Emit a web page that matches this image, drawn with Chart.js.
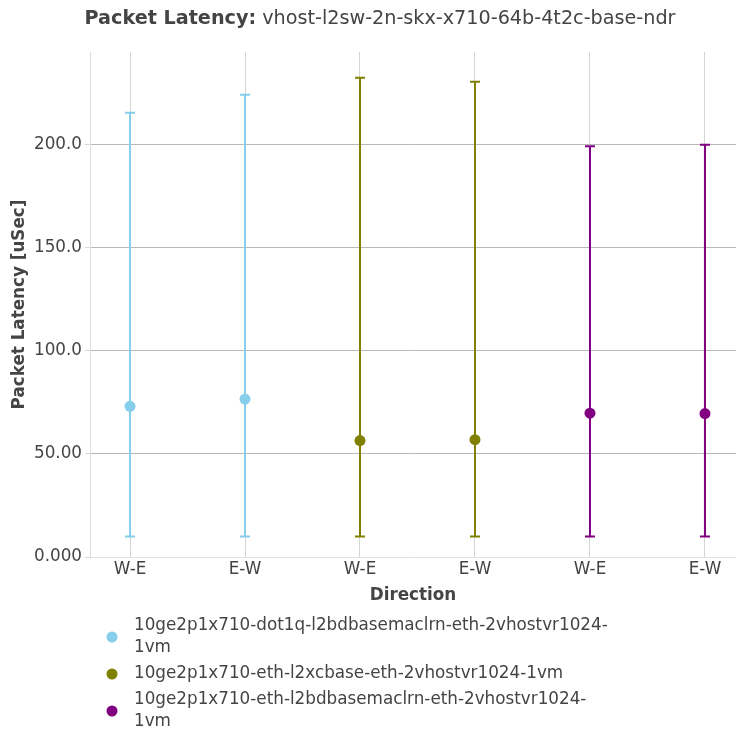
<!DOCTYPE html>
<html>
<head>
<meta charset="utf-8">
<script src="https://cdn.jsdelivr.net/npm/chart.js@4/dist/chart.umd.min.js"></script>
<style>
  html, body { margin: 0; padding: 0; background: #fff; }
  #wrap { width: 736px; height: 733px; }
</style>
</head>
<body>
<div id="wrap"><canvas id="grafik"></canvas></div>
<script>
const directions = ['W-E', 'E-W', 'W-E', 'E-W', 'W-E', 'E-W'];
const yTicks = [0, 50, 100, 150, 200];

const testNames = [
    ['10ge2p1x710-dot1q-l2bdbasemaclrn-eth-2vhostvr1024-', '1vm'],
    ['10ge2p1x710-eth-l2xcbase-eth-2vhostvr1024-1vm'],
    ['10ge2p1x710-eth-l2bdbasemaclrn-eth-2vhostvr1024-', '1vm']
];
const colors = ['#87ceeb', '#808000', '#800080'];
const positions = [[0, 1], [2, 3], [4, 5]];
const avgLatency = [[73.1, 76.6], [56.5, 56.9], [69.8, 69.6]];
const maxLatency = [[215.5, 224.3], [232.5, 230.6], [199.3, 200.0]];
const minLatency = [[10, 10], [10, 10], [10, 10]];

const textColor = '#444';
const font = '"DejaVu Sans", sans-serif';
const fs = 16.8;

// error bars (min..max) drawn under the points
const errorBars = {
    id: 'errorBars',
    beforeDatasetsDraw(chart) {
        const ctx = chart.ctx;
        const xs = chart.scales.x;
        const ys = chart.scales.y;
        ctx.save();
        ctx.lineWidth = 2;
        positions.forEach((pos, i) => {
            ctx.strokeStyle = colors[i];
            pos.forEach((p, j) => {
                const x = xs.getPixelForValue(p);
                const top = ys.getPixelForValue(maxLatency[i][j]);
                const bot = ys.getPixelForValue(minLatency[i][j]);
                ctx.beginPath();
                ctx.moveTo(x, top);
                ctx.lineTo(x, bot);
                ctx.moveTo(x - 5, top);
                ctx.lineTo(x + 5, top);
                ctx.moveTo(x - 5, bot);
                ctx.lineTo(x + 5, bot);
                ctx.stroke();
            });
        });
        ctx.restore();
    }
};

// title with bold prefix
const mixedTitle = {
    id: 'mixedTitle',
    afterDraw(chart) {
        const ctx = chart.ctx;
        const a = 'Packet Latency:';
        const b = ' vhost-l2sw-2n-skx-x710-64b-4t2c-base-ndr';
        ctx.save();
        ctx.textBaseline = 'middle';
        ctx.fillStyle = textColor;
        ctx.font = 'bold 19.2px ' + font;
        const wa = ctx.measureText(a).width;
        ctx.font = '19.2px ' + font;
        const wb = ctx.measureText(b).width;
        let x = 380 - (wa + wb) / 2;
        ctx.font = 'bold 19.2px ' + font;
        ctx.fillText(a, x, 19);
        ctx.font = '19.2px ' + font;
        ctx.fillText(b, x + wa, 19);
        ctx.restore();
    }
};

// legend below the plot, dot centred on each wrapped entry
const sideLegend = {
    id: 'sideLegend',
    afterDraw(chart) {
        const ctx = chart.ctx;
        const lineH = 22;
        let y = chart.chartArea.bottom + 69;
        ctx.save();
        ctx.font = fs + 'px ' + font;
        ctx.textBaseline = 'middle';
        testNames.forEach((lines, i) => {
            const mid = y + (lines.length - 1) * lineH / 2;
            ctx.fillStyle = colors[i];
            ctx.beginPath();
            ctx.arc(112, mid, 5.5, 0, Math.PI * 2);
            ctx.fill();
            ctx.fillStyle = textColor;
            lines.forEach((t, k) => ctx.fillText(t, 134, y + k * lineH));
            y += lines.length * lineH + 4;
        });
        ctx.restore();
    }
};

const datasets = positions.map((pos, i) => ({
    label: testNames[i].join(''),
    data: pos.map((p, j) => ({x: p, y: avgLatency[i][j]})),
    backgroundColor: colors[i],
    borderColor: colors[i],
    pointRadius: 5.5,
    pointBorderWidth: 0,
    showLine: false
}));

new Chart(document.getElementById('grafik'), {
    type: 'scatter',
    data: { datasets: datasets },
    plugins: [errorBars, mixedTitle, sideLegend],
    options: {
        responsive: true,
        maintainAspectRatio: false,
        animation: false,
        layout: { autoPadding: false, padding: { top: 52, left: 0, right: 0, bottom: 118 } },
        plugins: {
            legend: { display: false },
            tooltip: { enabled: false }
        },
        scales: {
            x: {
                type: 'linear',
                min: -0.348,
                max: 5.27,
                afterBuildTicks: s => { s.ticks = directions.map((d, k) => ({value: k})); },
                afterFit: s => { s.height = 58; },
                ticks: {
                    callback: v => directions[v],
                    color: textColor,
                    font: { size: fs, family: font },
                    padding: 3,
                    maxRotation: 0
                },
                grid: { color: '#d4d4d4', drawTicks: false, lineWidth: 1 },
                border: { display: false },
                title: {
                    display: true,
                    text: 'Direction',
                    color: textColor,
                    font: { size: fs, weight: 'bold', family: font },
                    padding: { top: 0, bottom: 9 }
                }
            },
            y: {
                min: 0,
                max: 245,
                afterBuildTicks: s => { s.ticks = yTicks.map(v => ({value: v})); },
                afterFit: s => { s.width = 90; },
                ticks: {
                    callback: v => Number(v).toPrecision(4),
                    color: textColor,
                    font: { size: fs, family: font },
                    padding: 3
                },
                grid: {
                    color: c => (c.tick && c.tick.value === 0) ? '#e2e2e2' : '#b8b8b8',
                    tickColor: '#d8d8d8',
                    tickLength: 5,
                    lineWidth: 1
                },
                border: { display: true, color: '#dcdcdc' },
                title: {
                    display: true,
                    text: 'Packet Latency [uSec]',
                    color: textColor,
                    font: { size: fs, weight: 'bold', family: font },
                    padding: { top: 10, bottom: 0 }
                }
            }
        }
    }
});
</script>
</body>
</html>
